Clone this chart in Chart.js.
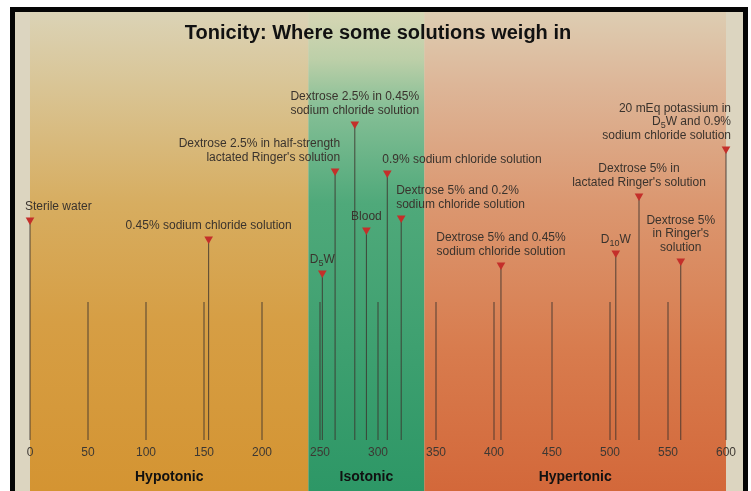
<!DOCTYPE html>
<html>
<head>
<meta charset="utf-8">
<title>Tonicity: Where some solutions weigh in</title>
<script src="https://cdn.jsdelivr.net/npm/chart.js@4.4.0/dist/chart.umd.min.js"></script>
<style>
  html, body { margin: 0; padding: 0; background: #fff; }
</style>
</head>
<body>
<canvas id="tonicity" width="751" height="491"></canvas>
<script>
// Solutions (label lines, "_5" = subscript) and their osmolarity in mOsm/L
const solutions = [
  ['Sterile water'],
  ['0.45% sodium chloride solution'],
  ['Dextrose 2.5% in half-strength', "lactated Ringer's solution"],
  ['D_5W'],
  ['Dextrose 2.5% in 0.45%', 'sodium chloride solution'],
  ['Blood'],
  ['0.9% sodium chloride solution'],
  ['Dextrose 5% and 0.2%', 'sodium chloride solution'],
  ['Dextrose 5% and 0.45%', 'sodium chloride solution'],
  ['D_10W'],
  ['Dextrose 5% in', "lactated Ringer's solution"],
  ['Dextrose 5%', "in Ringer's", 'solution'],
  ['20 mEq potassium in', 'D_5W and 0.9%', 'sodium chloride solution']
];
const osmolarity = [0, 154, 263, 252, 280, 290, 308, 320, 406, 505, 525, 561, 600];

// Tonicity zones
const zoneNames = ['Hypotonic', 'Isotonic', 'Hypertonic'];
const zoneEdges = [0, 240, 340, 600];

// Axis
const axisTicks = [0, 50, 100, 150, 200, 250, 300, 350, 400, 450, 500, 550, 600];
const scaleMarks = [50, 100, 150, 200, 250, 300, 350, 400, 450, 500, 550];

// layout only: how high each marker sits above the axis, and label alignment
const markerHeight = [220, 201, 269, 167, 316, 210, 267, 222, 175, 187, 244, 179, 291];
const labelAlign = ['left', 'center', 'right', 'center', 'center', 'center', 'left', 'left', 'center', 'center', 'center', 'center', 'right'];
const markTop = 138;

const zoneCenters = zoneNames.map((n, i) => (zoneEdges[i] + zoneEdges[i + 1]) / 2);

const labelFont = '"Liberation Sans", Arial, sans-serif';

// paper background, frame and coloured zones
const paper = {
  id: 'paper',
  beforeDraw(chart) {
    const ctx = chart.ctx;
    const x = chart.scales.x;
    const W = chart.width, H = chart.height;
    ctx.save();
    ctx.fillStyle = '#ffffff';
    ctx.fillRect(0, 0, W, H);
    ctx.fillStyle = '#050505';
    ctx.fillRect(10, 7, 738, H - 7);
    ctx.fillStyle = '#dcd5c0';
    ctx.fillRect(15, 12, 728, H - 12);

    const stops = [
      [[0, '#dbd3b6'], [0.15, '#d9c596'], [0.4, '#d7ad60'], [0.65, '#d69e44'], [1, '#d49432']],
      [[0, '#d6d6b4'], [0.1, '#bccfa8'], [0.2, '#86bf96'], [0.4, '#4fa97a'], [1, '#2d9766']],
      [[0, '#ddcdb2'], [0.15, '#ddb698'], [0.4, '#db9770'], [0.7, '#d87c4e'], [1, '#d3683a']]
    ];
    for (let i = 0; i < zoneNames.length; i++) {
      const a = x.getPixelForValue(zoneEdges[i]);
      const b = x.getPixelForValue(zoneEdges[i + 1]);
      const g = ctx.createLinearGradient(0, 12, 0, H);
      stops[i].forEach(s => g.addColorStop(s[0], s[1]));
      ctx.fillStyle = g;
      ctx.fillRect(a, 12, b - a, H - 12);
    }
    ctx.restore();
  }
};

function drawRich(ctx, text, x, y, align) {
  const parts = text.split(/_(\d+)/);
  const widths = parts.map((p, i) => {
    ctx.font = (i % 2 ? '9px ' : '12px ') + labelFont;
    return ctx.measureText(p).width;
  });
  const total = widths.reduce((s, w) => s + w, 0);
  let cx = align === 'left' ? x : align === 'right' ? x - total : x - total / 2;
  ctx.textAlign = 'left';
  ctx.textBaseline = 'middle';
  parts.forEach((p, i) => {
    ctx.font = (i % 2 ? '9px ' : '12px ') + labelFont;
    ctx.fillText(p, cx, i % 2 ? y + 4 : y);
    cx += widths[i];
  });
}

// solution names above each marker
const labels = {
  id: 'labels',
  afterDatasetsDraw(chart) {
    const ctx = chart.ctx;
    const pts = chart.getDatasetMeta(0).data;
    ctx.save();
    ctx.fillStyle = '#3a332d';
    pts.forEach((pt, i) => {
      const lines = solutions[i];
      const align = labelAlign[i];
      const dx = align === 'left' ? -5 : align === 'right' ? 5 : 0;
      lines.forEach((ln, j) => {
        const y = pt.y - 13.5 - (lines.length - 1 - j) * 13.5;
        drawRich(ctx, ln, pt.x + dx, y, align);
      });
    });
    ctx.restore();
  }
};

const ctx = document.getElementById('tonicity').getContext('2d');

const chart = new Chart(ctx, {
  type: 'scatter',
  data: {
    datasets: [
      {
        label: 'Solutions',
        data: osmolarity.map((v, i) => ({ x: v, y: markerHeight[i] })),
        pointStyle: 'triangle',
        rotation: 180,
        radius: 5,
        backgroundColor: '#c42f2a',
        borderWidth: 0,
        clip: false,
        order: 0
      },
      {
        type: 'bar',
        label: 'Stems',
        data: osmolarity.map((v, i) => ({ x: v, y: [0, markerHeight[i]] })),
        backgroundColor: 'rgba(60, 50, 45, 0.85)',
        borderWidth: 0,
        grouped: false,
        maxBarThickness: 1,
        clip: false,
        order: 1
      },
      {
        type: 'bar',
        label: 'Scale',
        data: scaleMarks.map(v => ({ x: v, y: [0, markTop] })),
        backgroundColor: 'rgba(60, 50, 45, 0.85)',
        borderWidth: 0,
        grouped: false,
        maxBarThickness: 1,
        order: 2
      }
    ]
  },
  options: {
    responsive: false,
    animation: false,
    layout: { padding: { left: 30, right: 25, top: 0, bottom: 1.4 } },
    plugins: {
      legend: { display: false },
      tooltip: { enabled: false },
      title: {
        display: true,
        text: 'Tonicity: Where some solutions weigh in',
        color: '#111',
        font: { family: labelFont, weight: 'bold', size: 20 },
        padding: { top: 21.5, bottom: 14.5 }
      }
    },
    scales: {
      x: {
        type: 'linear',
        min: 0,
        max: 600,
        offset: false,
        position: 'bottom',
        grid: { display: false, drawTicks: false, offset: false },
        border: { display: false },
        afterBuildTicks: s => { s.ticks = axisTicks.map(v => ({ value: v })); },
        ticks: {
          autoSkip: false,
          maxRotation: 0,
          padding: 5,
          color: '#3d3833',
          font: { family: labelFont, size: 12 }
        }
      },
      zone: {
        type: 'linear',
        min: 0,
        max: 600,
        offset: false,
        position: 'bottom',
        weight: 1,
        grid: { display: false, drawTicks: false },
        border: { display: false },
        afterBuildTicks: s => { s.ticks = zoneCenters.map(v => ({ value: v })); },
        afterFit: s => { s.paddingLeft = 0; s.paddingRight = 0; },
        ticks: {
          autoSkip: false,
          maxRotation: 0,
          padding: 4.2,
          color: '#111',
          font: { family: labelFont, weight: 'bold', size: 14 },
          callback: (v, i) => zoneNames[i]
        }
      },
      y: { display: false, min: 0, max: 380 }
    }
  },
  plugins: [paper, labels]
});
</script>
</body>
</html>
